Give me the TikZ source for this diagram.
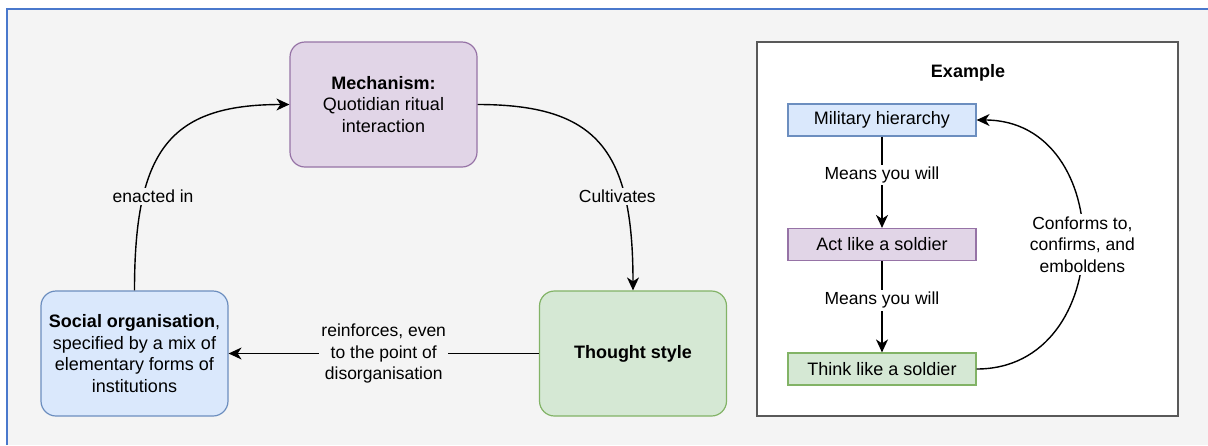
\documentclass[tikz,border=0pt]{standalone}
\usepackage{fontspec}
\setmainfont{Liberation Sans}
\usetikzlibrary{arrows.meta}

\definecolor{fond}{HTML}{F4F4F4}
\definecolor{cadre}{HTML}{4A78CC}
\definecolor{gris}{HTML}{595959}
\definecolor{violetclair}{HTML}{E1D5E7}
\definecolor{violet}{HTML}{9673A6}
\definecolor{bleuclair}{HTML}{DAE8FC}
\definecolor{bleu}{HTML}{6C8EBF}
\definecolor{vertclair}{HTML}{D5E8D4}
\definecolor{vert}{HTML}{82B366}

\begin{document}
\begin{tikzpicture}[x=1pt,y=-1pt]
      \tikzstyle{boite}=[draw, line width=1.2pt, rounded corners=15pt, minimum width=187pt, minimum height=125pt, align=center, font=\fontsize{18}{21.7}\selectfont]
      \tikzstyle{case}=[draw, line width=1.2pt, minimum width=188pt, minimum height=32pt, inner sep=0pt, font=\fontsize{18}{21.7}\selectfont]
      \tikzstyle{etiquette}=[align=center, inner sep=2pt, font=\fontsize{17.5}{21.7}\selectfont]
      \tikzstyle{fleche}=[-{Stealth[length=13pt,width=12pt,inset=4pt]}, line width=1.4pt]

      \useasboundingbox (0,0) rectangle (1208,445);
      \fill[white] (0,0) rectangle (1208,445);
      \fill[fond] (7,9) rectangle (1208,445);
      \draw[cadre, line width=1.6pt] (7,445) -- (7,9) -- (1208,9);

      \node[boite, fill=violetclair, draw=violet] (Meca) at (383.5,104.5) {\textbf{Mechanism:}\\Quotidian ritual\\interaction};
      \node[boite, fill=bleuclair, draw=bleu] (Org) at (134.5,353.5) {\textbf{Social organisation},\\specified by a mix of\\elementary forms of\\institutions};
      \node[boite, fill=vertclair, draw=vert] (Style) at (633,353.5) {\textbf{Thought style}};

      \draw[fleche] (Org.north) .. controls +(0,-140) and +(-120,0) .. node[etiquette, fill=fond, pos=0.27, xshift=10pt] {enacted in} (Meca.west);
      \draw[fleche] (Meca.east) .. controls +(120,0) and +(0,-140) .. node[etiquette, fill=fond, pos=0.73, xshift=-7pt] {Cultivates} (Style.north);
      \draw[fleche] (Style.west) -- node[etiquette, fill=fond] {reinforces, even\\to the point of\\disorganisation} (Org.east);

      \node[draw=gris, line width=1.5pt, fill=white, minimum width=421pt, minimum height=374pt] (Ex) at (967.5,229) {};
      \node[font=\fontsize{18}{21.7}\selectfont\bfseries] (Titre) at (968,73) {Example};
      \node[case, fill=bleuclair, draw=bleu] (Mil) at (882,120) {Military hierarchy};
      \node[case, fill=violetclair, draw=violet] (Act) at (882,244.5) {Act like a soldier};
      \node[case, fill=vertclair, draw=vert] (Think) at (882,369) {Think like a soldier};

      \draw[fleche] (Mil) -- node[etiquette, fill=white, pos=0.42] {Means you will} (Act);
      \draw[fleche] (Act) -- node[etiquette, fill=white, pos=0.43] {Means you will} (Think);
      \draw[fleche] (Think.east) .. controls +(141,0) and +(141,0) .. node[etiquette, fill=white] {Conforms to,\\confirms, and\\emboldens} (Mil.east);

    \end{tikzpicture}
\end{document}
